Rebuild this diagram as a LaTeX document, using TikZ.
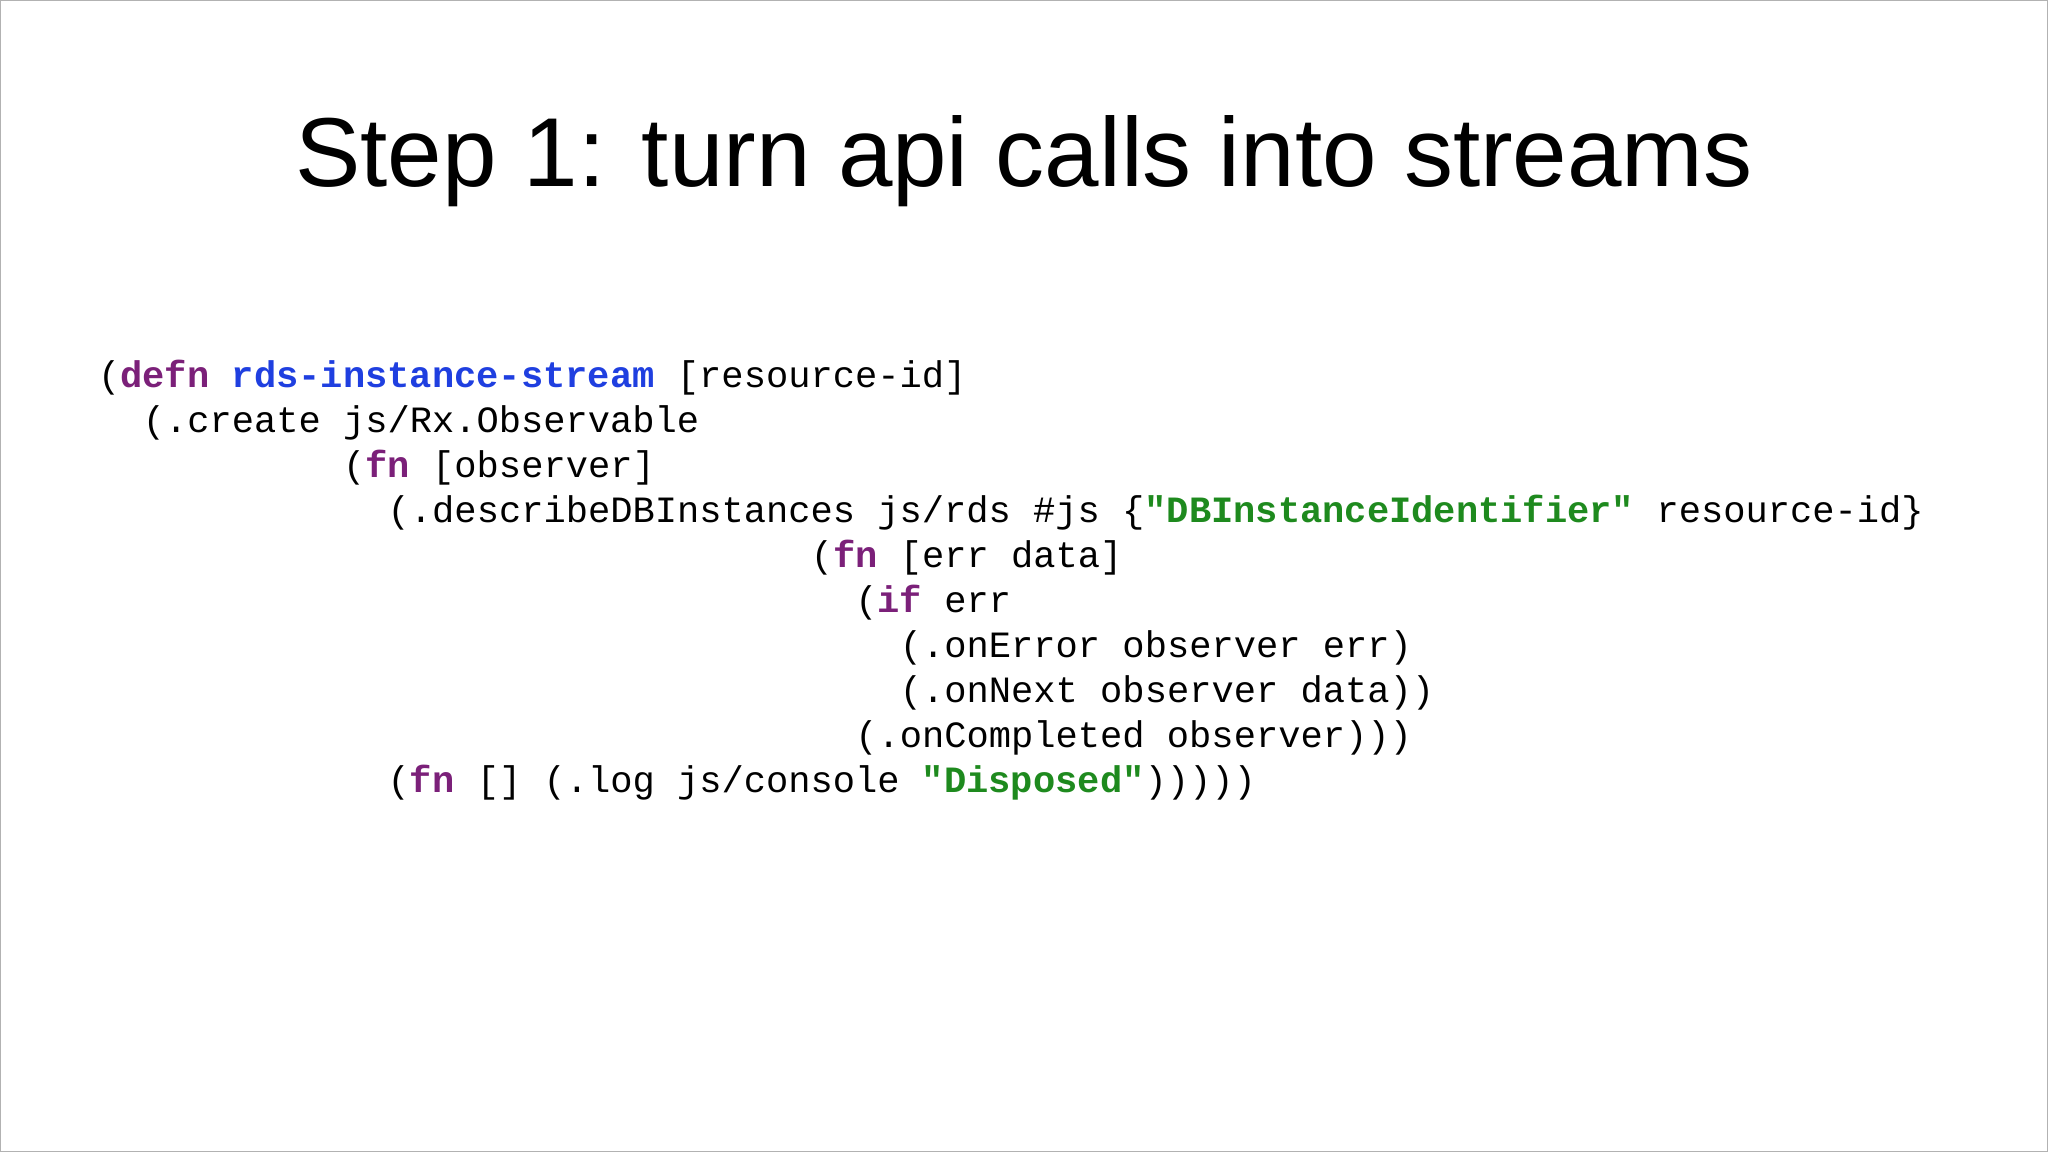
\documentclass[tikz,border=0pt]{standalone}
\usepackage{fontspec}
\setmainfont{Liberation Sans}
\setmonofont{Liberation Mono}
\definecolor{kw}{HTML}{7B2079}
\definecolor{fnname}{HTML}{1F3FE0}
\definecolor{str}{HTML}{1E8A1E}
\begin{document}
\begin{tikzpicture}[x=1pt,y=-1pt,
  codeline/.style={anchor=base west,inner sep=0pt,font=\ttfamily\fontsize{28.4}{34}\selectfont}]
\useasboundingbox (0,0) rectangle (1568,882);
\fill[white] (0,0) rectangle (1568,882);
\draw[gray!60,line width=1pt] (0.5,0.5) rectangle (1567.5,881.5);
\node[anchor=base,inner sep=0pt,font=\fontsize{75}{80}\selectfont] (title) at (784,143) {Step 1: turn api calls into streams};
\def\cx#1{75+#1*17.05}
\node[codeline] (l1) at ({\cx{0}},297) {(\textbf{\color{kw}defn} \textbf{\color{fnname}rds-instance-stream} [resource-id]};
\node[codeline] (l2) at ({\cx{2}},331.4) {(.create js/Rx.Observable};
\node[codeline] (l3) at ({\cx{11}},365.8) {(\textbf{\color{kw}fn} [observer]};
\node[codeline] (l4) at ({\cx{13}},400.2) {(.describeDBInstances js/rds \#js \{\textbf{\color{str}"DBInstanceIdentifier"} resource-id\}};
\node[codeline] (l5) at ({\cx{32}},434.6) {(\textbf{\color{kw}fn} [err data]};
\node[codeline] (l6) at ({\cx{34}},469) {(\textbf{\color{kw}if} err};
\node[codeline] (l7) at ({\cx{36}},503.4) {(.onError observer err)};
\node[codeline] (l8) at ({\cx{36}},537.8) {(.onNext observer data))};
\node[codeline] (l9) at ({\cx{34}},572.2) {(.onCompleted observer)))};
\node[codeline] (l10) at ({\cx{13}},606.6) {(\textbf{\color{kw}fn} [] (.log js/console \textbf{\color{str}"Disposed"})))))};
\end{tikzpicture}
\end{document}
